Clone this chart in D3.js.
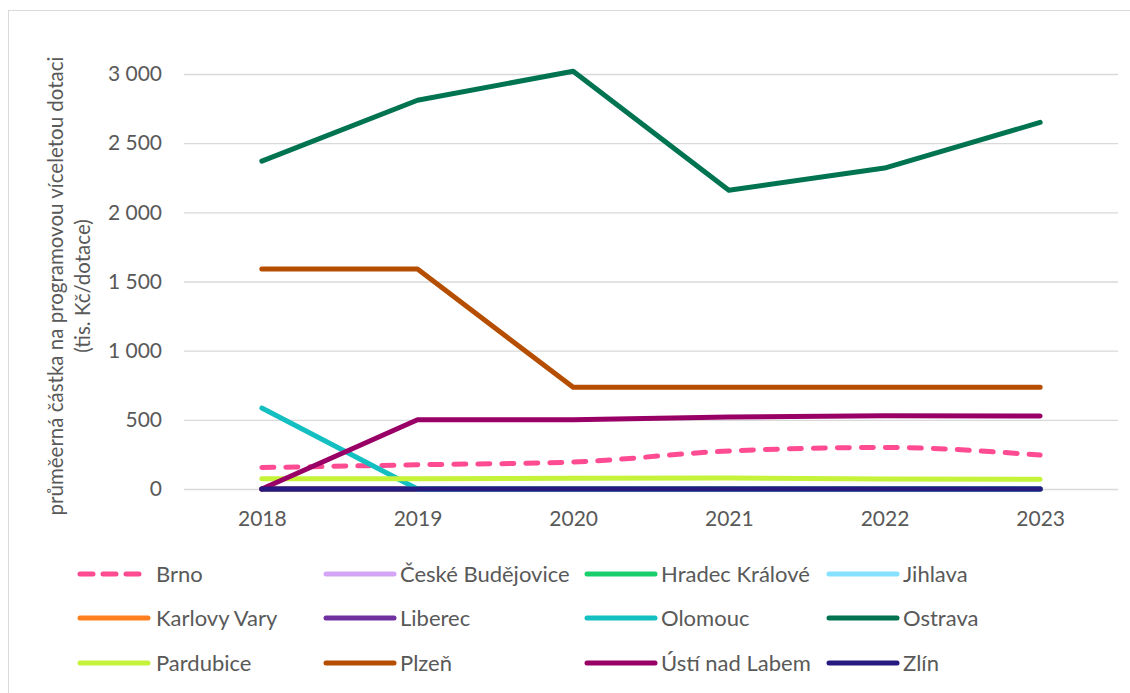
<!DOCTYPE html>
<html>
<head>
<meta charset="utf-8">
<script src="https://cdn.jsdelivr.net/npm/d3@7"></script>
<style>
  html, body { margin: 0; padding: 0; background: #fff; }
  svg { display: block; }
  text { font-family: Lato, "Open Sans", sans-serif; fill: #595959; }
</style>
</head>
<body>
<svg id="chart" width="1130" height="693"></svg>
<script>
// Years on the category axis
const years = ["2018", "2019", "2020", "2021", "2022", "2023"];

// Average multi-year programme grant per city (thousand CZK)
const brno            = [155, 175, 195, 275, 300, 245];
const ceskeBudejovice = [0, 0, 0, 0, 0, 0];
const hradecKralove   = [0, 0, 0, 0, 0, 0];
const jihlava         = [0, 0, 0, 0, 0, 0];
const karlovyVary     = [0, 0, 0, 0, 0, 0];
const liberec         = [0, 0, 0, 0, 0, 0];
const olomouc         = [585, 0, 0, 0, 0, 0];
const ostrava         = [2370, 2810, 3020, 2160, 2320, 2650];
const pardubice       = [75, 75, 78, 80, 72, 70];
const plzen           = [1590, 1590, 735, 735, 735, 735];
const ustiNadLabem    = [0, 500, 500, 520, 530, 527];
const zlin            = [0, 0, 0, 0, 0, 0];

const yTicks = [0, 500, 1000, 1500, 2000, 2500, 3000];

const series = [
  { name: "Brno", values: brno, color: "#ff4b91", dashed: true, smooth: true },
  { name: "České Budějovice", values: ceskeBudejovice, color: "#d4a5f7" },
  { name: "Hradec Králové", values: hradecKralove, color: "#18cf6c" },
  { name: "Jihlava", values: jihlava, color: "#86e0ff" },
  { name: "Karlovy Vary", values: karlovyVary, color: "#ff7f1e" },
  { name: "Liberec", values: liberec, color: "#7030a0" },
  { name: "Olomouc", values: olomouc, color: "#14bfc1" },
  { name: "Ostrava", values: ostrava, color: "#007350" },
  { name: "Pardubice", values: pardubice, color: "#c4f33a" },
  { name: "Plzeň", values: plzen, color: "#b54e00" },
  { name: "Ústí nad Labem", values: ustiNadLabem, color: "#990066" },
  { name: "Zlín", values: zlin, color: "#261a80" }
];

const svg = d3.select("#chart");
const tickFont = "21px";
const legendFont = "22px";
const titleFont = "20.5px";

// outer chart frame
svg.append("rect")
  .attr("x", 8.5).attr("y", 10.5)
  .attr("width", 1130).attr("height", 700)
  .attr("fill", "#fff").attr("stroke", "#d9d9d9").attr("stroke-width", 1);

const plot = { left: 184, right: 1118, top: 74, bottom: 489 };

const x = d3.scalePoint()
  .domain(years)
  .range([plot.left, plot.right])
  .padding(0.5);

const y = d3.scaleLinear()
  .domain([0, 3000])
  .range([plot.bottom, plot.top]);

// horizontal gridlines
svg.append("g")
  .selectAll("line")
  .data(yTicks)
  .join("line")
  .attr("x1", plot.left).attr("x2", plot.right)
  .attr("y1", d => y(d) + 0.5).attr("y2", d => y(d) + 0.5)
  .attr("stroke", "#d9d9d9").attr("stroke-width", 1.3);

// y axis labels
const yAxis = d3.axisLeft(y)
  .tickValues(yTicks)
  .tickSize(0)
  .tickPadding(22)
  .tickFormat(d => d3.format(",")(d).replace(/,/g, " "));

svg.append("g")
  .attr("transform", `translate(${plot.left},0)`)
  .call(yAxis)
  .call(g => g.select(".domain").remove())
  .call(g => g.selectAll("text")
    .style("font-size", tickFont)
    .style("font-family", "Lato, 'Open Sans', sans-serif")
    .attr("fill", "#595959"));

// x axis labels
const xAxis = d3.axisBottom(x).tickSize(0).tickPadding(22);
svg.append("g")
  .attr("transform", `translate(0,${plot.bottom})`)
  .call(xAxis)
  .call(g => g.select(".domain").remove())
  .call(g => g.selectAll("text")
    .style("font-size", tickFont)
    .style("font-family", "Lato, 'Open Sans', sans-serif")
    .attr("fill", "#595959"));

// y axis title (two lines)
const title = svg.append("text")
  .attr("transform", `translate(63,286) rotate(-90)`)
  .attr("text-anchor", "middle")
  .style("font-size", titleFont);
title.append("tspan").attr("x", 0).attr("y", 0)
  .text("průměerná částka na programovou víceletou dotaci");
title.append("tspan").attr("x", 0).attr("y", 27)
  .text("(tis. Kč/dotace)");

// series lines
const lineStraight = d3.line()
  .x((d, i) => x(years[i]))
  .y(d => y(d));
const lineSmooth = d3.line()
  .x((d, i) => x(years[i]))
  .y(d => y(d))
  .curve(d3.curveMonotoneX);

svg.append("g")
  .selectAll("path")
  .data(series)
  .join("path")
  .attr("d", s => (s.smooth ? lineSmooth : lineStraight)(s.values))
  .attr("fill", "none")
  .attr("stroke", s => s.color)
  .attr("stroke-width", 5)
  .attr("stroke-linecap", "round")
  .attr("stroke-linejoin", "round")
  .attr("stroke-dasharray", s => s.dashed ? "12 12" : null);

// legend: 4 columns x 3 rows
const colX = [80, 326, 587, 829];
const rowY = [574, 618, 663];
const legend = svg.append("g")
  .selectAll("g")
  .data(series)
  .join("g")
  .attr("transform", (s, i) => `translate(${colX[i % 4]},${rowY[Math.floor(i / 4)]})`);

legend.append("line")
  .attr("x1", 0).attr("x2", 68)
  .attr("y1", 0).attr("y2", 0)
  .attr("stroke", s => s.color)
  .attr("stroke-width", 5)
  .attr("stroke-linecap", "round")
  .attr("stroke-dasharray", s => s.dashed ? "13 10" : null);

legend.append("text")
  .attr("x", (s, i) => i % 4 === 0 ? 76 : 74)
  .attr("y", 0)
  .attr("dy", "0.35em")
  .style("font-size", legendFont)
  .text(s => s.name);
</script>
</body>
</html>
